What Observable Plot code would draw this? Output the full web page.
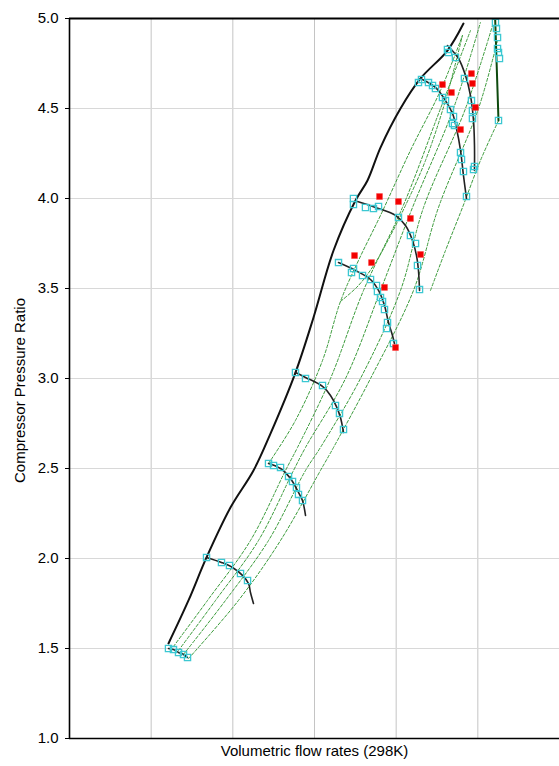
<!DOCTYPE html>
<html>
<head>
<meta charset="utf-8">
<script src="https://cdn.jsdelivr.net/npm/d3@7"></script>
<script src="https://cdn.jsdelivr.net/npm/@observablehq/plot@0.6"></script>
<style>
  body { margin: 0; background: #fff; }
  #chart svg { display: block; }
</style>
</head>
<body>
<div id="chart"></div>
<script>
// Compressor map: surge line, corrected speed lines, beta (dashed) lines,
// measured map points (cyan) and test points (red).
// Flow axis is in relative units (grid spacing = 1).

// Surge line
const surgeFlow  = [1.212, 1.457, 1.678, 1.971, 2.253, 2.461, 2.767, 2.988, 3.233, 3.502, 3.649, 3.808, 4.053, 4.298, 4.628, 4.824];
const surgeRatio = [1.528, 1.767, 2.006, 2.283, 2.489, 2.694, 3.033, 3.339, 3.711, 3.989, 4.100, 4.283, 4.500, 4.667, 4.822, 4.972];

// Speed lines (curve) and their map points
const speed1Flow  = [1.212, 1.273, 1.335, 1.396, 1.445];
const speed1Ratio = [1.500, 1.494, 1.478, 1.467, 1.450];
const speed1PtFlow  = [1.212, 1.273, 1.335, 1.396, 1.445];
const speed1PtRatio = [1.500, 1.494, 1.478, 1.467, 1.450];

const speed2Flow  = [1.678, 1.861, 1.996, 2.118, 2.192, 2.216, 2.253];
const speed2Ratio = [2.006, 1.978, 1.950, 1.906, 1.861, 1.811, 1.750];
const speed2PtFlow  = [1.678, 1.861, 1.959, 2.094, 2.180];
const speed2PtRatio = [2.006, 1.978, 1.961, 1.917, 1.878];

const speed3Flow  = [2.437, 2.584, 2.706, 2.804, 2.853, 2.890];
const speed3Ratio = [2.528, 2.500, 2.444, 2.367, 2.322, 2.239];
const speed3PtFlow  = [2.437, 2.498, 2.584, 2.682, 2.731, 2.779, 2.804, 2.853];
const speed3PtRatio = [2.528, 2.517, 2.506, 2.456, 2.428, 2.394, 2.356, 2.322];

const speed4Flow  = [2.767, 2.890, 3.098, 3.196, 3.269, 3.318, 3.355];
const speed4Ratio = [3.033, 3.006, 2.956, 2.906, 2.844, 2.783, 2.700];
const speed4PtFlow  = [2.767, 2.890, 3.098, 3.257, 3.306, 3.355];
const speed4PtRatio = [3.033, 3.000, 2.961, 2.850, 2.806, 2.717];

const speed5Flow  = [3.294, 3.502, 3.686, 3.784, 3.857, 3.906, 3.955, 3.979];
const speed5Ratio = [3.644, 3.600, 3.550, 3.489, 3.406, 3.311, 3.239, 3.194];
const speed5PtFlow  = [3.294, 3.478, 3.453, 3.588, 3.686, 3.759, 3.771, 3.808, 3.833, 3.857, 3.894, 3.882, 3.967];
const speed5PtRatio = [3.644, 3.611, 3.589, 3.572, 3.550, 3.517, 3.483, 3.450, 3.428, 3.383, 3.311, 3.278, 3.194];

const speed6Flow  = [3.526, 3.747, 3.992, 4.114, 4.200, 4.249, 4.273, 4.286];
const speed6Ratio = [3.983, 3.950, 3.906, 3.850, 3.767, 3.683, 3.600, 3.489];
const speed6PtFlow  = [3.477, 3.477, 3.624, 3.722, 3.784, 4.028, 4.175, 4.237, 4.261, 4.286];
const speed6PtRatio = [4.000, 3.967, 3.950, 3.944, 3.956, 3.894, 3.794, 3.750, 3.628, 3.494];

const speed7Flow  = [4.298, 4.481, 4.604, 4.690, 4.739, 4.788, 4.824, 4.861];
const speed7Ratio = [4.667, 4.617, 4.544, 4.472, 4.389, 4.267, 4.128, 4.000];
const speed7PtFlow  = [4.273, 4.310, 4.396, 4.445, 4.481, 4.567, 4.604, 4.665, 4.702, 4.690, 4.714, 4.788, 4.800, 4.824, 4.861];
const speed7PtRatio = [4.644, 4.661, 4.644, 4.628, 4.611, 4.561, 4.544, 4.494, 4.456, 4.417, 4.406, 4.256, 4.217, 4.150, 4.011];

const speed8Flow  = [4.628, 4.763, 4.849, 4.910, 4.947, 4.959, 4.959];
const speed8Ratio = [4.850, 4.778, 4.683, 4.572, 4.433, 4.294, 4.156];
const speed8PtFlow  = [4.628, 4.641, 4.726, 4.836, 4.922, 4.934, 4.934, 4.959, 4.947];
const speed8PtRatio = [4.828, 4.811, 4.783, 4.667, 4.544, 4.489, 4.444, 4.178, 4.161];

// Top speed line (drawn dark green)
const speed9Flow  = [5.210, 5.253];
const speed9Ratio = [5.030, 4.433];
const speed9PtFlow  = [5.216, 5.228, 5.241, 5.241, 5.253, 5.265, 5.253];
const speed9PtRatio = [4.978, 4.944, 4.894, 4.833, 4.811, 4.778, 4.433];

// Beta lines (dashed)
const beta1Flow  = [1.273, 1.690, 2.216, 2.645, 2.792, 3.196, 3.600, 4.077, 4.543, 4.910];
const beta1Ratio = [1.511, 1.767, 2.100, 2.489, 2.617, 3.000, 3.489, 3.950, 4.500, 4.933];
const beta2Flow  = [1.335, 1.788, 2.314, 2.743, 2.890, 3.380, 3.808, 4.200, 4.702, 5.032];
const beta2Ratio = [1.489, 1.767, 2.100, 2.489, 2.617, 3.000, 3.489, 3.950, 4.500, 4.978];
const beta3Flow  = [1.396, 1.910, 2.437, 2.890, 3.073, 3.563, 4.053, 4.335, 4.849, 5.180];
const beta3Ratio = [1.467, 1.767, 2.100, 2.489, 2.617, 3.000, 3.489, 3.950, 4.500, 4.961];
const beta4Flow  = [1.457, 2.069, 2.584, 3.073, 3.233, 3.686, 4.212, 4.518, 5.008, 5.241];
const beta4Ratio = [1.444, 1.767, 2.100, 2.489, 2.617, 3.000, 3.489, 3.950, 4.500, 4.878];
const beta5Flow  = [5.253, 5.032, 4.812, 4.604, 4.420];
const beta5Ratio = [4.433, 4.211, 3.950, 3.711, 3.489];
const beta6Flow  = [2.437, 2.767, 3.098, 3.318, 3.539, 3.808, 4.175, 4.543, 4.812];
const beta6Ratio = [2.528, 2.767, 3.100, 3.428, 3.656, 3.906, 4.267, 4.600, 4.906];
const beta7Flow  = [3.318, 3.539, 3.747, 3.930, 4.114, 4.359, 4.604, 4.812];
const beta7Ratio = [3.428, 3.517, 3.644, 3.794, 3.961, 4.211, 4.544, 4.906];

// Test points
const testFlow  = [3.796, 4.028, 4.175, 4.298, 3.490, 3.698, 3.857, 3.992, 4.567, 4.677, 4.788, 4.922, 4.934, 4.971];
const testRatio = [4.011, 3.983, 3.889, 3.689, 3.683, 3.644, 3.506, 3.172, 4.633, 4.589, 4.383, 4.694, 4.639, 4.506];

// Axis ticks
const ratioTicks = [1.0, 1.5, 2.0, 2.5, 3.0, 3.5, 4.0, 4.5, 5.0];
const flowGrid = [1, 2, 3, 4, 5, 6];

const toRows = (id, xs, ys) => xs.map((x, i) => ({id, x, y: ys[i]}));

const speedLines = [
  toRows("N1", speed1Flow, speed1Ratio), toRows("N2", speed2Flow, speed2Ratio),
  toRows("N3", speed3Flow, speed3Ratio), toRows("N4", speed4Flow, speed4Ratio),
  toRows("N5", speed5Flow, speed5Ratio), toRows("N6", speed6Flow, speed6Ratio),
  toRows("N7", speed7Flow, speed7Ratio), toRows("N8", speed8Flow, speed8Ratio)
].flat();
const speedPoints = [
  toRows("N1", speed1PtFlow, speed1PtRatio), toRows("N2", speed2PtFlow, speed2PtRatio),
  toRows("N3", speed3PtFlow, speed3PtRatio), toRows("N4", speed4PtFlow, speed4PtRatio),
  toRows("N5", speed5PtFlow, speed5PtRatio), toRows("N6", speed6PtFlow, speed6PtRatio),
  toRows("N7", speed7PtFlow, speed7PtRatio), toRows("N8", speed8PtFlow, speed8PtRatio),
  toRows("N9", speed9PtFlow, speed9PtRatio)
].flat();
const betaLines = [
  toRows("B1", beta1Flow, beta1Ratio), toRows("B2", beta2Flow, beta2Ratio),
  toRows("B3", beta3Flow, beta3Ratio), toRows("B4", beta4Flow, beta4Ratio),
  toRows("B5", beta5Flow, beta5Ratio), toRows("B6", beta6Flow, beta6Ratio),
  toRows("B7", beta7Flow, beta7Ratio)
].flat();
const surge = toRows("surge", surgeFlow, surgeRatio);
const topSpeed = toRows("N9", speed9Flow, speed9Ratio);
const tests = toRows("test", testFlow, testRatio);

const FONT = "'Liberation Sans', Arial, sans-serif";

const chart = Plot.plot({
  width: 559,
  height: 766,
  marginTop: 18,
  marginBottom: 28,
  marginLeft: 69,
  marginRight: 0,
  style: {fontFamily: FONT, fontSize: "15px", color: "#000", background: "#fff"},
  x: {domain: [0, 6], axis: null},
  y: {domain: [1, 5], axis: null},
  marks: [
    Plot.gridX(flowGrid, {stroke: "#c4c4c4", strokeOpacity: 1, strokeWidth: 1}),
    Plot.gridY(ratioTicks.slice(1, -1), {stroke: "#d8d8d8", strokeOpacity: 1, strokeWidth: 1.2}),
    Plot.line(betaLines, {x: "x", y: "y", z: "id", stroke: "#3b9b3b", strokeWidth: 1, strokeDasharray: "3,2", curve: "catmull-rom", clip: true}),
    Plot.line(surge, {x: "x", y: "y", stroke: "#111", strokeWidth: 2, curve: "catmull-rom", clip: true}),
    Plot.line(speedLines, {x: "x", y: "y", z: "id", stroke: "#222", strokeWidth: 1.6, curve: "catmull-rom", clip: true}),
    Plot.line(topSpeed, {x: "x", y: "y", stroke: "#0e4a0e", strokeWidth: 2, clip: true}),
    Plot.dot(speedPoints, {x: "x", y: "y", symbol: "square", r: 3.5, stroke: "#3cc8d2", strokeWidth: 1.3, fill: "none", clip: true}),
    Plot.dot(tests, {x: "x", y: "y", symbol: "square", r: 3.3, fill: "#f20000", stroke: "#ff4040", strokeWidth: 0.6, clip: true}),
    Plot.ruleX([0], {stroke: "#000", strokeWidth: 1.6}),
    Plot.ruleY([1], {stroke: "#000", strokeWidth: 1.6}),
    Plot.ruleY([5], {stroke: "#000", strokeWidth: 2.2}),
    Plot.axisY(ratioTicks, {tickSize: 4, tickPadding: 7, tickFormat: d3.format(".1f"), label: null, fontSize: 15, stroke: "#000"}),
    Plot.text(["Volumetric flow rates (298K)"], {frameAnchor: "bottom", dy: 17, fontSize: 15, fill: "#000"}),
    Plot.text(["Compressor Pressure Ratio"], {frameAnchor: "left", textAnchor: "middle", rotate: -90, dx: -49, dy: 12, fontSize: 15, fill: "#000"})
  ]
});

document.getElementById("chart").append(chart);
</script>
</body>
</html>
